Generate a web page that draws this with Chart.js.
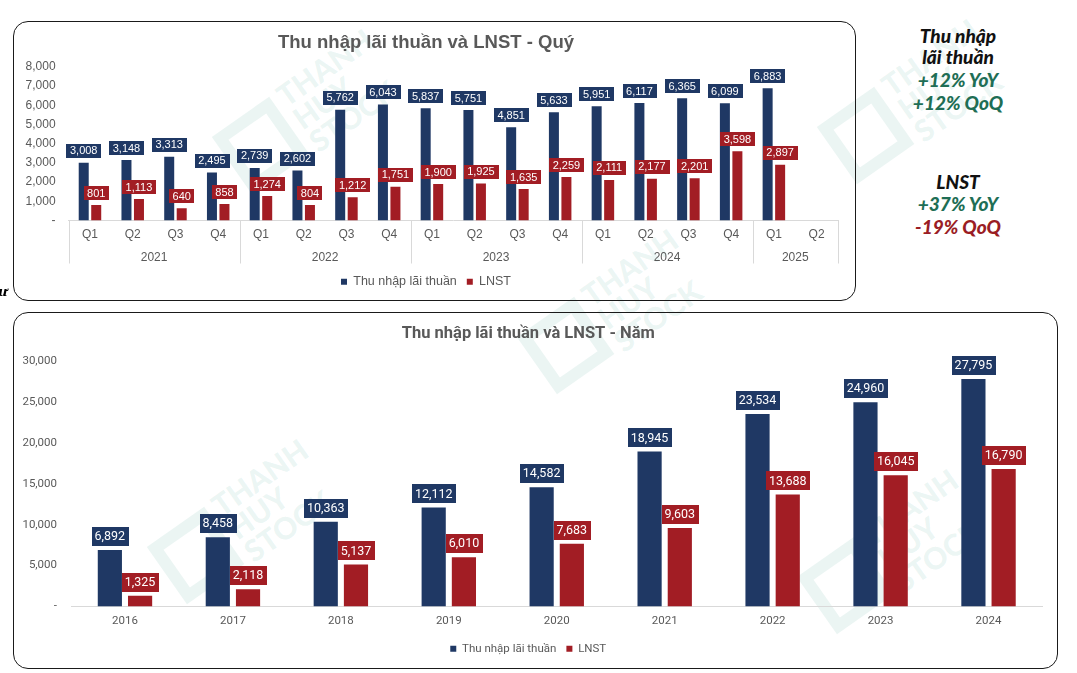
<!DOCTYPE html>
<html lang="vi">
<head>
<meta charset="utf-8">
<title>Thu nhập lãi thuần và LNST</title>
<script src="https://cdn.jsdelivr.net/npm/chart.js@4.4.1/dist/chart.umd.min.js"></script>
<style>
  html, body { margin: 0; padding: 0; background: #fff; }
  body { width: 1077px; height: 673px; position: relative; overflow: hidden; font-family: "Liberation Sans", Arial, sans-serif; }
  .chart { position: absolute; }
  .box { position: absolute; border: 1.5px solid #1a1a1a; border-radius: 15px; box-sizing: border-box; pointer-events: none; }
  .side { position: absolute; left: 878px; width: 160px; text-align: center; font-family: Lato, sans-serif; font-weight: 900; font-style: italic; font-size: 19px; line-height: 22px; }
  .wm { position: absolute; display: flex; align-items: center; gap: 8px; transform: rotate(-35deg); color: rgba(110, 185, 170, 0.14); pointer-events: none; }
  .wm .logo { width: 70px; height: 70px; border: 12px solid rgba(110, 185, 170, 0.14); box-sizing: border-box; }
  .wm .txt { font-family: Lato, sans-serif; font-weight: 900; font-size: 30px; line-height: 28px; }
  .stub { position: absolute; left: -2px; top: 284px; font: italic bold 13px "DejaVu Serif", serif; }
</style>
</head>
<body>

<div class="wm" style="left:215px; top:70px;"><div class="logo"></div><div class="txt">THANH<br>HUY<br>STOCK</div></div>
<div class="wm" style="left:820px; top:60px;"><div class="logo"></div><div class="txt">THANH<br>HUY<br>STOCK</div></div>
<div class="wm" style="left:520px; top:270px;"><div class="logo"></div><div class="txt">THANH<br>HUY<br>STOCK</div></div>
<div class="wm" style="left:150px; top:480px;"><div class="logo"></div><div class="txt">THANH<br>HUY<br>STOCK</div></div>
<div class="wm" style="left:800px; top:510px;"><div class="logo"></div><div class="txt">THANH<br>HUY<br>STOCK</div></div>

<div class="chart" style="left:14px; top:22px; width:841px; height:278px;"><canvas id="quarterChart"></canvas></div>
<div class="box" style="left:13px; top:21px; width:843px; height:280px;"></div>

<div class="chart" style="left:14px; top:313px; width:1043px; height:355px;"><canvas id="yearChart"></canvas></div>
<div class="box" style="left:13px; top:312px; width:1045px; height:357px;"></div>

<div class="side" style="top:25px; color:#111;">Thu nhập</div>
<div class="side" style="top:46px; color:#111;">lãi thuần</div>
<div class="side" style="top:69px; color:#1E6E55;">+12% YoY</div>
<div class="side" style="top:92px; color:#1E6E55;">+12% QoQ</div>
<div class="side" style="top:171px; color:#111;">LNST</div>
<div class="side" style="top:193px; color:#1E6E55;">+37% YoY</div>
<div class="side" style="top:216px; color:#9A1D24;">-19% QoQ</div>

<div class="stub">ư</div>

<script>
// quarterly data (billion VND)
const quarterLabels = ['Q1', 'Q2', 'Q3', 'Q4', 'Q1', 'Q2', 'Q3', 'Q4', 'Q1', 'Q2', 'Q3', 'Q4', 'Q1', 'Q2', 'Q3', 'Q4', 'Q1', 'Q2'];
const quarterYears = ['2021', '2021', '2021', '2021', '2022', '2022', '2022', '2022', '2023', '2023', '2023', '2023', '2024', '2024', '2024', '2024', '2025', '2025'];
const quarterNII = [3008, 3148, 3313, 2495, 2739, 2602, 5762, 6043, 5837, 5751, 4851, 5633, 5951, 6117, 6365, 6099, 6883, null];
const quarterLNST = [801, 1113, 640, 858, 1274, 804, 1212, 1751, 1900, 1925, 1635, 2259, 2111, 2177, 2201, 3598, 2897, null];

// yearly data
const yearLabels = ['2016', '2017', '2018', '2019', '2020', '2021', '2022', '2023', '2024'];
const yearNII = [6892, 8458, 10363, 12112, 14582, 18945, 23534, 24960, 27795];
const yearLNST = [1325, 2118, 5137, 6010, 7683, 9603, 13688, 16045, 16790];

const seriesNames = ['Thu nhập lãi thuần', 'LNST'];

const navy = '#1F3864';
const red = '#A21D24';
const grey = '#595959';

const fmt = v => v === 0 ? '-' : v.toLocaleString('en-US');

// boxed value labels above each bar
const barLabels = {
  id: 'barLabels',
  afterDatasetsDraw(chart, args, opts) {
    const ctx = chart.ctx;
    ctx.save();
    ctx.font = opts.font;
    ctx.textAlign = 'center';
    ctx.textBaseline = 'middle';
    chart.data.datasets.forEach((ds, i) => {
      chart.getDatasetMeta(i).data.forEach((bar, j) => {
        const v = ds.data[j];
        if (v == null) return;
        const txt = fmt(v);
        const w = ctx.measureText(txt).width + opts.padX * 2;
        const bottom = bar.y - opts.gap;
        ctx.fillStyle = ds.backgroundColor;
        ctx.fillRect(Math.round(bar.x - w / 2), Math.round(bottom - opts.boxH), Math.round(w), opts.boxH);
        ctx.fillStyle = '#fff';
        ctx.fillText(txt, bar.x, bottom - opts.boxH / 2 + 0.5);
      });
    });
    ctx.restore();
  }
};

// second level of the category axis: years + separators
const yearGroups = {
  id: 'yearGroups',
  afterDraw(chart, args, opts) {
    if (!opts.years) return;
    const x = chart.scales.x;
    const area = chart.chartArea;
    const ctx = chart.ctx;
    const half = (x.getPixelForValue(1) - x.getPixelForValue(0)) / 2;
    const years = opts.years;
    ctx.save();
    ctx.strokeStyle = '#d9d9d9';
    ctx.lineWidth = 1;
    ctx.font = opts.font;
    ctx.fillStyle = grey;
    ctx.textAlign = 'center';
    ctx.textBaseline = 'middle';
    const edges = [x.getPixelForValue(0) - half];
    let start = 0;
    for (let i = 1; i <= years.length; i++) {
      if (i === years.length || years[i] !== years[start]) {
        const left = x.getPixelForValue(start) - half;
        const right = x.getPixelForValue(i - 1) + half;
        ctx.fillText(years[start], (left + right) / 2, area.bottom + opts.labelOffset);
        edges.push(right);
        start = i;
      }
    }
    edges.forEach(px => {
      const xx = Math.round(px) + 0.5;
      ctx.beginPath();
      ctx.moveTo(xx, area.bottom);
      ctx.lineTo(xx, area.bottom + opts.lineLength);
      ctx.stroke();
    });
    ctx.restore();
  }
};

new Chart(document.getElementById('quarterChart'), {
  type: 'bar',
  data: {
    labels: quarterLabels,
    datasets: [
      { label: seriesNames[0], data: quarterNII, backgroundColor: navy, categoryPercentage: 0.585, barPercentage: 0.8 },
      { label: seriesNames[1], data: quarterLNST, backgroundColor: red, categoryPercentage: 0.585, barPercentage: 0.8 }
    ]
  },
  options: {
    responsive: true,
    maintainAspectRatio: false,
    animation: false,
    devicePixelRatio: 1,
    layout: { padding: { left: 0, right: 17, top: 0, bottom: 2 } },
    plugins: {
      title: {
        display: true,
        text: 'Thu nhập lãi thuần và LNST - Quý',
        color: grey,
        font: { family: 'Liberation Sans', size: 18.5, weight: 'bold' },
        padding: { top: 9.9, bottom: 12.7 }
      },
      legend: {
        position: 'bottom',
        labels: { boxWidth: 6, boxHeight: 6, padding: 10, color: grey, font: { family: 'Liberation Sans', size: 12.5 } }
      },
      tooltip: { enabled: false },
      barLabels: { font: '11px "Liberation Sans"', padX: 3.5, boxH: 14, gap: 5 },
      yearGroups: { years: quarterYears, font: '12px "Liberation Sans"', labelOffset: 37, lineLength: 43 }
    },
    scales: {
      x: {
        grid: { display: false, drawTicks: false },
        border: { color: '#d9d9d9' },
        ticks: { color: grey, padding: 7, font: { family: 'Liberation Sans', size: 12 } },
        afterFit: s => { s.height = 45; }
      },
      y: {
        min: 0,
        max: 8000,
        grid: { display: false, drawTicks: false },
        border: { display: false },
        ticks: { stepSize: 1000, padding: 13, color: grey, font: { family: 'Liberation Sans', size: 12 }, callback: v => fmt(v) },
        afterFit: s => { s.width = 54.6; }
      }
    }
  },
  plugins: [barLabels, yearGroups]
});

new Chart(document.getElementById('yearChart'), {
  type: 'bar',
  data: {
    labels: yearLabels,
    datasets: [
      { label: seriesNames[0], data: yearNII, backgroundColor: navy, categoryPercentage: 0.56, barPercentage: 0.8 },
      { label: seriesNames[1], data: yearLNST, backgroundColor: red, categoryPercentage: 0.56, barPercentage: 0.8 }
    ]
  },
  options: {
    responsive: true,
    maintainAspectRatio: false,
    animation: false,
    devicePixelRatio: 1,
    layout: { padding: { left: 0, right: 14.5, top: 0, bottom: 3.5 } },
    plugins: {
      title: {
        display: true,
        text: 'Thu nhập lãi thuần và LNST - Năm',
        color: grey,
        font: { family: 'Roboto', size: 16.5, weight: 'bold' },
        padding: { top: 11.1, bottom: 17.1 }
      },
      legend: {
        position: 'bottom',
        labels: { boxWidth: 6, boxHeight: 6, padding: 10, color: grey, font: { family: 'Roboto', size: 11.5 } }
      },
      tooltip: { enabled: false },
      barLabels: { font: '12.5px Roboto', padX: 3, boxH: 19, gap: 4 }
    },
    scales: {
      x: {
        grid: { display: false, drawTicks: false },
        border: { color: '#d9d9d9' },
        ticks: { color: grey, padding: 8, font: { family: 'Roboto', size: 11.5 } },
        afterFit: s => { s.height = 26.5; }
      },
      y: {
        min: 0,
        max: 30000,
        grid: { display: false, drawTicks: false },
        border: { display: false },
        ticks: { stepSize: 5000, padding: 14, color: grey, font: { family: 'Roboto', size: 11.5 }, callback: v => fmt(v) },
        afterFit: s => { s.width = 57; }
      }
    }
  },
  plugins: [barLabels]
});
</script>
</body>
</html>
